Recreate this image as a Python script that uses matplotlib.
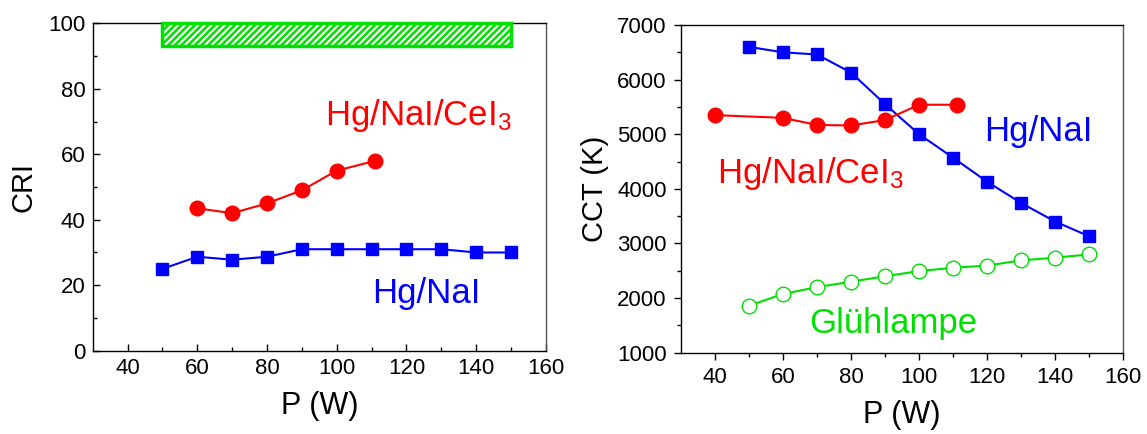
import matplotlib
matplotlib.use("Agg")
import matplotlib.pyplot as plt
from matplotlib.patches import Rectangle

plt.rcParams['font.family'] = ['Liberation Sans', 'DejaVu Sans']
plt.rcParams['mathtext.fontset'] = 'custom'
plt.rcParams['mathtext.rm'] = 'Liberation Sans'
plt.rcParams['mathtext.it'] = 'Liberation Sans'
plt.rcParams['hatch.linewidth'] = 1.8

# CRI vs power
p_nai = [50, 60, 70, 80, 90, 100, 110, 120, 130, 140, 150]
cri_nai = [25, 28.7, 27.8, 28.7, 31, 31, 31, 31, 31, 30, 30]
p_cei = [60, 70, 80, 90, 100, 111]
cri_cei = [43.5, 42, 45, 49, 55, 58]

# CCT vs power
cct_nai = [6600, 6500, 6460, 6130, 5550, 5000, 4570, 4130, 3740, 3400, 3130]
p_cei_cct = [40, 60, 70, 80, 90, 100, 111]
cct_cei = [5350, 5300, 5170, 5160, 5260, 5540, 5540]
p_gl = [50, 60, 70, 80, 90, 100, 110, 120, 130, 140, 150]
cct_gl = [1860, 2075, 2200, 2300, 2400, 2495, 2555, 2595, 2690, 2740, 2800]

blue = '#0000ff'
red = '#ff0000'
green = '#00e000'

fig = plt.figure(figsize=(11.47, 4.34), dpi=100)
ax1 = fig.add_axes([0.0808, 0.1919, 0.3952, 0.7544])
ax2 = fig.add_axes([0.5935, 0.1873, 0.3859, 0.7551])


def style(ax, tickdir):
    ax.tick_params(which='both', direction=tickdir, top=False, right=False,
                   labelsize=16, width=1, pad=5)
    ax.tick_params(which='major', length=5)
    ax.tick_params(which='minor', length=3)
    for s in ax.spines.values():
        s.set_linewidth(1)
    ax.spines['right'].set_color('#555555')
    ax.set_xlim(30, 160)
    ax.set_xticks(range(40, 161, 20))
    ax.set_xticks(range(50, 160, 20), minor=True)
    ax.set_xlabel('P (W)', fontsize=22, labelpad=9)


style(ax1, 'in')
ax1.set_ylim(0, 100)
ax1.set_yticks(range(0, 101, 20))
ax1.set_yticks(range(10, 100, 20), minor=True)
ax1.set_ylabel('CRI', fontsize=21, labelpad=8)

ax1.add_patch(Rectangle((50, 93), 100, 7, facecolor='white', edgecolor=green,
                        hatch='/////', linewidth=2.5, zorder=3, clip_on=False))
ax1.plot(p_nai, cri_nai, '-s', color=blue, ms=8, lw=1.5)
ax1.plot(p_cei, cri_cei, '-o', color=red, ms=10.5, lw=1.5)
ax1.text(96.7, 69, 'Hg/NaI/CeI$_3$', color=red, fontsize=25)
ax1.text(110, 14.6, 'Hg/NaI', color=blue, fontsize=25)

style(ax2, 'out')
ax2.set_ylim(1000, 7000)
ax2.set_yticks(range(1000, 7001, 1000))
ax2.set_yticks(range(1500, 7000, 1000), minor=True)
ax2.set_ylabel('CCT (K)', fontsize=21, labelpad=6)

ax2.plot(p_nai, cct_nai, '-s', color=blue, ms=8, lw=1.5)
ax2.plot(p_cei_cct, cct_cei, '-o', color=red, ms=10.5, lw=1.5)
ax2.plot(p_gl, cct_gl, '-o', color=green, mfc='white', ms=10.5, lw=1.5)
ax2.text(119, 4880, 'Hg/NaI', color=blue, fontsize=25)
ax2.text(40.7, 4110, 'Hg/NaI/CeI$_3$', color=red, fontsize=25)
ax2.text(67.6, 1370, 'Glühlampe', color=green, fontsize=25)

fig.savefig('out.png', dpi=100)
